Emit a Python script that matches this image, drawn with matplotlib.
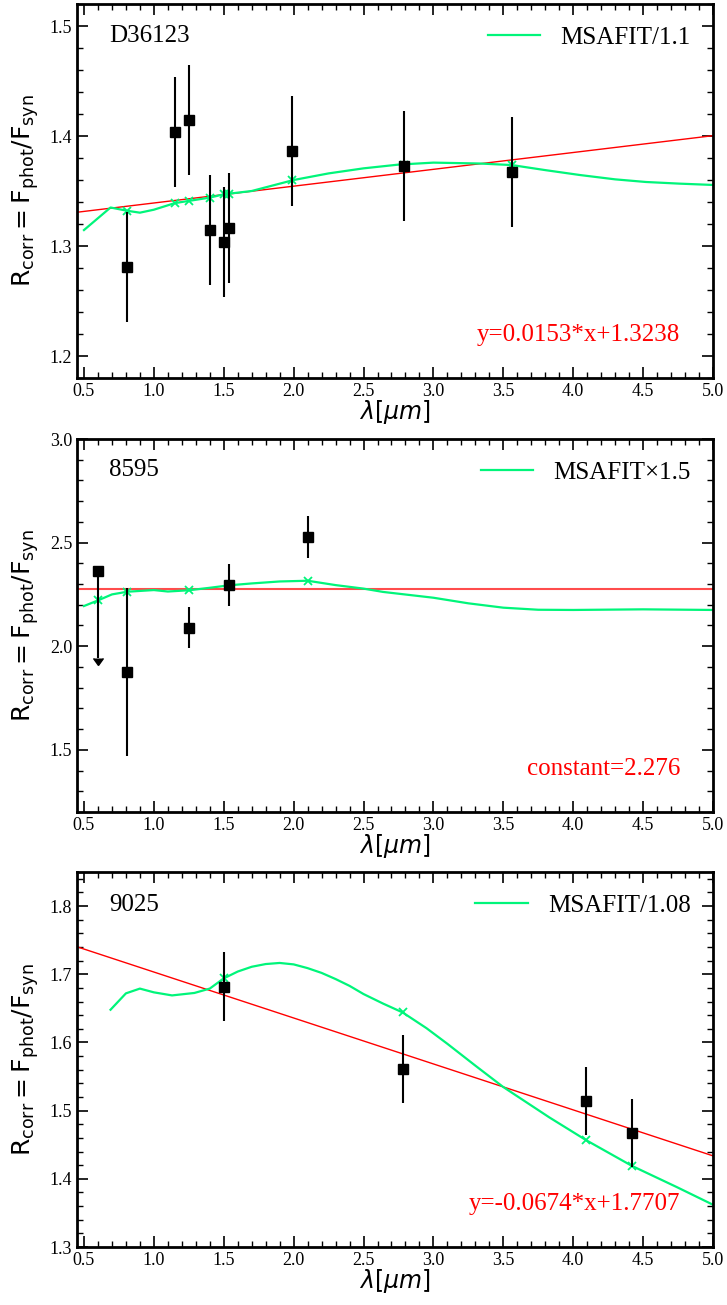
import matplotlib
matplotlib.use("Agg")
import matplotlib.pyplot as plt
from matplotlib.ticker import MultipleLocator, FormatStrFormatter

plt.rcParams['font.family'] = ['Liberation Serif', 'DejaVu Serif']
plt.rcParams['mathtext.fontset'] = 'dejavusans'

# ---------------- data ----------------
# Panel 1: D36123
p1_wl = [0.81, 1.15, 1.25, 1.40, 1.50, 1.54, 1.99, 2.79, 3.56]
p1_r = [1.281, 1.404, 1.415, 1.315, 1.304, 1.316, 1.386, 1.373, 1.367]
p1_err = [0.05, 0.05, 0.05, 0.05, 0.05, 0.05, 0.05, 0.05, 0.05]
p1_model_wl = [0.5, 0.69, 0.81, 0.9, 1.0, 1.15, 1.25, 1.4, 1.5, 1.54, 1.7, 2.0,
               2.25, 2.5, 2.75, 3.0, 3.33, 3.56, 3.8, 4.05, 4.3, 4.52, 4.76, 5.0]
p1_model = [1.3145, 1.335, 1.332, 1.3303, 1.333, 1.339, 1.341, 1.344, 1.347,
            1.3476, 1.350, 1.360, 1.366, 1.3706, 1.374, 1.3758, 1.375, 1.3736,
            1.369, 1.3645, 1.3606, 1.3582, 1.3567, 1.3555]
p1_cross = [1.332, 1.339, 1.341, 1.344, 1.347, 1.3476, 1.360, 1.374, 1.3736]
p1_slope, p1_intercept = 0.0153, 1.3238

# Panel 2: 8595
p2_wl = [0.81, 1.25, 1.54, 2.10]
p2_r = [1.876, 2.09, 2.295, 2.527]
p2_err = [0.405, 0.10, 0.10, 0.10]
p2_lim_wl = [0.60]
p2_lim_r = [2.364]
p2_lim_len = [0.42]
p2_model_wl = [0.5, 0.6, 0.7, 0.81, 1.0, 1.1, 1.25, 1.4, 1.54, 1.7, 1.9, 2.1,
               2.3, 2.5, 2.64, 3.0, 3.25, 3.5, 3.75, 4.0, 4.5, 5.0]
p2_model = [2.194, 2.221, 2.25, 2.263, 2.271, 2.264, 2.27, 2.282, 2.294, 2.303,
            2.3125, 2.316, 2.295, 2.278, 2.262, 2.234, 2.207, 2.186, 2.176,
            2.175, 2.178, 2.175]
p2_cross_wl = [0.60, 0.81, 1.25, 1.54, 2.10]
p2_cross = [2.221, 2.263, 2.27, 2.294, 2.316]
p2_const = 2.276

# Panel 3: 9025
p3_wl = [1.50, 2.78, 4.09, 4.42]
p3_r = [1.682, 1.561, 1.514, 1.467]
p3_err = [0.05, 0.05, 0.05, 0.05]
p3_model_wl = [0.69, 0.8, 0.9, 1.0, 1.13, 1.29, 1.4, 1.5, 1.6, 1.7, 1.8, 1.9,
               2.0, 2.1, 2.2, 2.3, 2.4, 2.5, 2.64, 2.78, 2.95, 3.1, 3.3, 3.5,
               3.83, 4.09, 4.42, 4.74, 5.0]
p3_model = [1.648, 1.672, 1.679, 1.6735, 1.669, 1.6726, 1.679, 1.694, 1.704,
            1.711, 1.715, 1.7166, 1.7145, 1.709, 1.702, 1.693, 1.683, 1.671,
            1.657, 1.644, 1.621, 1.598, 1.566, 1.5346, 1.490, 1.457, 1.419,
            1.388, 1.362]
p3_cross = [1.694, 1.644, 1.457, 1.419]
p3_slope, p3_intercept = -0.0674, 1.7707

# ---------------- figure ----------------
fig = plt.figure(figsize=(7.27, 13.05), dpi=100)
L, W = 0.1059, 0.8748
ax1 = fig.add_axes([L, 0.71034, W, 0.28659])
ax2 = fig.add_axes([L, 0.37778, W, 0.28582])
ax3 = fig.add_axes([L, 0.04444, W, 0.28736])

GREEN = '#00f57a'
ylab = r'$\mathrm{R_{corr} = F_{phot}/F_{syn}}$'
xlab = r'$\lambda[\mu m]$'


def style(ax, ylim, ymaj, ymin):
    ax.set_xlim(0.45, 5.0)
    ax.set_ylim(*ylim)
    ax.xaxis.set_major_locator(MultipleLocator(0.5))
    ax.xaxis.set_minor_locator(MultipleLocator(0.1))
    ax.yaxis.set_major_locator(MultipleLocator(ymaj))
    ax.yaxis.set_minor_locator(MultipleLocator(ymin))
    ax.tick_params(which='both', direction='in', top=True, right=True,
                   labelsize=13)
    ax.tick_params(which='major', length=8, width=1.2)
    ax.tick_params(which='minor', length=4, width=1.0)
    for s in ax.spines.values():
        s.set_linewidth(2.0)
    ax.set_xlabel(xlab, fontsize=17, labelpad=-1)
    ax.set_ylabel(ylab, fontsize=18, labelpad=6)
    ax.xaxis.set_major_formatter(FormatStrFormatter('%.1f'))
    ax.yaxis.set_major_formatter(FormatStrFormatter('%.1f'))


# Panel 1
ax = ax1
ax.axline((0, p1_intercept), slope=p1_slope, color='red', lw=1.0)
ax.plot(p1_model_wl, p1_model, color=GREEN, lw=1.6, label='MSAFIT/1.1')
ax.plot(p1_wl, p1_cross, 'x', color=GREEN, ms=6, mew=1.3)
ax.errorbar(p1_wl, p1_r, yerr=p1_err, fmt='s', color='black', ms=6.5,
            elinewidth=1.5, capsize=0)
ax.text(0.05, 0.898, 'D36123', transform=ax.transAxes, fontsize=18)
ax.text(0.948, 0.10, 'y=0.0153*x+1.3238', transform=ax.transAxes,
        fontsize=18, color='red', ha='right')
ax.legend(loc='upper right', frameon=False, fontsize=18, handlelength=2.1)
style(ax, (1.18, 1.52), 0.1, 0.02)

# Panel 2
ax = ax2
ax.axhline(p2_const, color='red', lw=1.5, alpha=0.7)
ax.plot(p2_model_wl, p2_model, color=GREEN, lw=1.6, label='MSAFIT×1.5')
ax.plot(p2_cross_wl, p2_cross, 'x', color=GREEN, ms=6, mew=1.3)
ax.errorbar(p2_wl, p2_r, yerr=p2_err, fmt='s', color='black', ms=6.5,
            elinewidth=1.5, capsize=0)
ax.errorbar(p2_lim_wl, p2_lim_r, yerr=p2_lim_len, uplims=True, fmt='s',
            color='black', ms=6.5, elinewidth=1.5, capsize=3.5)
ax.text(0.05, 0.90, '8595', transform=ax.transAxes, fontsize=18)
ax.text(0.948, 0.099, 'constant=2.276', transform=ax.transAxes,
        fontsize=18, color='red', ha='right')
ax.legend(loc='upper right', frameon=False, fontsize=18, handlelength=2.1)
style(ax, (1.2, 3.0), 0.5, 0.1)

# Panel 3
ax = ax3
ax.axline((0, p3_intercept), slope=p3_slope, color='red', lw=1.0)
ax.plot(p3_model_wl, p3_model, color=GREEN, lw=1.6, label='MSAFIT/1.08')
ax.plot(p3_wl, p3_cross, 'x', color=GREEN, ms=6, mew=1.3)
ax.errorbar(p3_wl, p3_r, yerr=p3_err, fmt='s', color='black', ms=6.5,
            elinewidth=1.5, capsize=0)
ax.text(0.05, 0.896, '9025', transform=ax.transAxes, fontsize=18)
ax.text(0.948, 0.099, 'y=-0.0674*x+1.7707', transform=ax.transAxes,
        fontsize=18, color='red', ha='right')
ax.legend(loc='upper right', frameon=False, fontsize=18, handlelength=2.1)
style(ax, (1.30, 1.85), 0.1, 0.02)

fig.savefig('out.png', dpi=100)
